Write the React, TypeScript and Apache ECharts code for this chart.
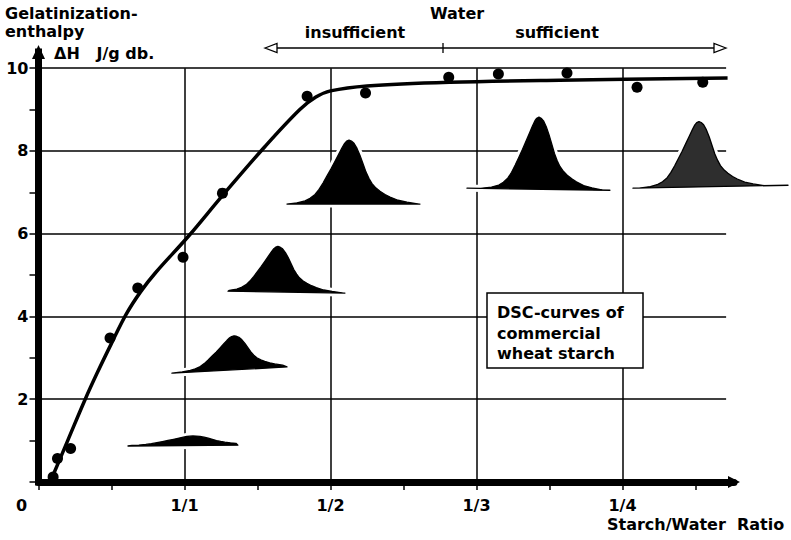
import React, { useEffect, useRef } from 'react';
import * as echarts from 'echarts';

const FONT = '"DejaVu Sans", Arial, sans-serif';

// Axis ticks / labels (x positions: 0, 1/1, 1/2, 1/3, 1/4 are equally spaced)
const X_TICK_LABELS = ['0', '1/1', '1/2', '1/3', '1/4'];
const X_LABEL_VALUES = [0, 1, 2, 3, 4];
const X_TICK_VALUES = [0, 0.5, 1, 1.5, 2, 2.5, 3, 3.5, 4, 4.5];
const Y_LABEL_VALUES = [2, 4, 6, 8, 10];
const Y_TICK_VALUES = [0, 1, 2, 3, 4, 5, 6, 7, 8, 9, 10];
const GRID_X_VALUES = [1, 2, 3, 4];
const GRID_Y_VALUES = [2, 4, 6, 8, 10];
const GRID_X_END = 4.71;
const GRID_Y_END = 10;

// Measured points (gelatinization enthalpy, J/g db.)
const measuredX = [0.10, 0.13, 0.22, 0.49, 0.68, 0.99, 1.26, 1.84, 2.24, 2.81, 3.15, 3.62, 4.10, 4.55];
const measuredY = [0.12, 0.57, 0.81, 3.48, 4.69, 5.43, 6.98, 9.32, 9.40, 9.78, 9.86, 9.88, 9.54, 9.66];

// Fitted curve
const fitX = [0.08, 0.20, 0.32, 0.40, 0.50, 0.60, 0.70, 0.80, 1.03, 1.26, 1.55, 1.79, 1.90, 2.00, 2.25, 2.82, 3.57, 4.72];
const fitY = [0.0, 1.0, 2.0, 2.62, 3.35, 4.05, 4.6, 5.05, 5.95, 6.92, 8.1, 9.0, 9.3, 9.45, 9.57, 9.66, 9.71, 9.76];

// DSC inset curves (data units): baseline start/end, peak position, peak height, width scale
const dscLeftX = [0.613, 0.914, 1.298, 1.702, 2.935, 4.072];
const dscLeftY = [0.87, 2.63, 4.61, 6.715, 7.10, 7.10];
const dscRightX = [1.366, 1.702, 2.099, 2.613, 3.914, 5.134];
const dscRightY = [0.89, 2.78, 4.565, 6.715, 7.05, 7.17];
const dscPeakX = [1.058, 1.339, 1.640, 2.127, 3.428, 4.524];
const dscPeakH = [0.23, 0.82, 1.10, 1.546, 1.74, 1.58];
const dscWidth = [0.19, 0.136, 0.128, 0.137, 0.125, 0.128];
// generic DSC peak profile: [offset in width units, fraction of peak height]
const DSC_PROFILE = [
  [-3.2, 0], [-2.6, 0.02], [-2.2, 0.05], [-1.95, 0.09], [-1.7, 0.15], [-1.5, 0.23],
  [-1.3, 0.33], [-1.1, 0.44], [-0.9, 0.55], [-0.7, 0.67], [-0.5, 0.79], [-0.35, 0.88],
  [-0.22, 0.95], [-0.12, 0.985], [0, 1], [0.12, 0.985], [0.25, 0.95], [0.4, 0.87],
  [0.55, 0.76], [0.7, 0.63], [0.85, 0.5], [1.0, 0.4], [1.15, 0.32], [1.35, 0.25],
  [1.55, 0.2], [1.8, 0.15], [2.05, 0.11], [2.45, 0.06], [2.9, 0.03], [3.5, 0],
];

const txt = (text: string, x: number, y: number, align: string = 'left') => ({
  type: 'text',
  z: 100,
  x,
  y,
  style: {
    text,
    fill: '#000',
    font: `bold 16px ${FONT}`,
    align,
    verticalAlign: 'middle',
  },
});

export default function App() {
  const ref = useRef<HTMLDivElement>(null);
  useEffect(() => {
    if (!ref.current) return;
    const chart = echarts.init(ref.current, null, { renderer: 'svg' });

    const gridLines = [
      ...GRID_Y_VALUES.map((v) => ({ coords: [[0, v], [GRID_X_END, v]] })),
      ...GRID_X_VALUES.map((v) => ({ coords: [[v, 0], [v, GRID_Y_END]] })),
    ];
    const dscData = dscLeftX.map((_, i) => [
      dscLeftX[i], dscLeftY[i], dscRightX[i], dscRightY[i], dscPeakX[i], dscPeakH[i], dscWidth[i],
    ]);

    const labelStyle = {
      color: '#000',
      fontSize: 16,
      fontWeight: 'bold',
      fontFamily: FONT,
    };

    const option: any = {
      animation: false,
      backgroundColor: '#fff',
      textStyle: { fontFamily: FONT },
      grid: {
        left: 38.5,
        right: 791 - 734,
        top: 52,
        bottom: 58,
        containLabel: false,
        outerBoundsMode: 'none',
      },
      xAxis: {
        type: 'value',
        min: 0,
        max: 4.764,
        axisLine: {
          show: true,
          onZero: false,
          symbol: ['none', 'triangle'],
          symbolSize: [12, 12],
          lineStyle: { color: '#000', width: 7 },
        },
        axisTick: {
          show: true,
          customValues: X_TICK_VALUES,
          length: 8,
          lineStyle: { color: '#000', width: 1.5 },
        },
        axisLabel: {
          ...labelStyle,
          customValues: X_LABEL_VALUES,
          margin: 15,
          formatter: (v: number) => (v === 0 ? '{z|0}' : X_TICK_LABELS[Math.round(v)]),
          rich: { z: { ...labelStyle, padding: [0, 34, 0, 0] } },
        },
        splitLine: { show: false },
      },
      yAxis: {
        type: 'value',
        min: 0,
        max: 10.39,
        axisLine: {
          show: true,
          onZero: false,
          symbol: ['none', 'triangle'],
          symbolSize: [13, 14],
          lineStyle: { color: '#000', width: 7, cap: 'square' },
        },
        axisTick: {
          show: true,
          customValues: Y_TICK_VALUES,
          length: 9,
          lineStyle: { color: '#000', width: 1.5 },
        },
        axisLabel: {
          ...labelStyle,
          customValues: Y_LABEL_VALUES,
          margin: 10,
          formatter: (v: number) => String(v),
        },
        splitLine: { show: false },
      },
      series: [
        {
          type: 'lines',
          coordinateSystem: 'cartesian2d',
          z: 1,
          silent: true,
          lineStyle: { color: '#000', width: 1.5, opacity: 1 },
          data: gridLines,
        },
        {
          type: 'custom',
          z: 2,
          silent: true,
          data: dscData,
          encode: { x: [0, 2, 4], y: [1, 3] },
          renderItem: (params: any, api: any) => {
            const i = params.dataIndex;
            const xL = api.value(0), yL = api.value(1), xR = api.value(2), yR = api.value(3);
            const px = api.value(4), h = api.value(5), w = api.value(6);
            const base = (x: number) => yL + ((yR - yL) * (x - xL)) / (xR - xL);
            const pts: number[][] = [api.coord([xL, yL])];
            for (const [u, f] of DSC_PROFILE) {
              const x = px + u * w;
              if (x <= xL || x >= xR) continue;
              pts.push(api.coord([x, base(x) + f * h]));
            }
            pts.push(api.coord([xR, yR]));
            const fill = i === 5 ? '#2e2e2e' : '#000';
            return {
              type: 'group',
              children: [
                {
                  type: 'polygon',
                  shape: { points: pts },
                  style: { fill: '#fff', stroke: '#fff', lineWidth: 7, lineJoin: 'round' },
                },
                {
                  type: 'polygon',
                  shape: { points: pts },
                  style: { fill, stroke: '#000', lineWidth: 1.3, lineJoin: 'round' },
                },
              ],
            };
          },
        },
        {
          type: 'line',
          z: 3,
          silent: true,
          smooth: 0.35,
          showSymbol: false,
          lineStyle: { color: '#000', width: 3.5 },
          data: fitX.map((x, i) => [x, fitY[i]]),
        },
        {
          type: 'scatter',
          z: 4,
          silent: true,
          symbol: 'circle',
          symbolSize: 11,
          itemStyle: { color: '#000', opacity: 1 },
          data: measuredX.map((x, i) => [x, measuredY[i]]),
        },
      ],
      graphic: {
        elements: [
          txt('Gelatinization-', 5, 13),
          txt('enthalpy', 5, 31),
          txt('ΔH   J/g db.', 54, 53),
          txt('Water', 457, 13, 'center'),
          txt('insufficient', 355, 32, 'center'),
          txt('sufficient', 557, 32, 'center'),
          {
            type: 'line',
            z: 100,
            shape: { x1: 277, y1: 48, x2: 714, y2: 48 },
            style: { stroke: '#000', lineWidth: 1.3 },
          },
          {
            type: 'line',
            z: 100,
            shape: { x1: 443, y1: 43, x2: 443, y2: 53 },
            style: { stroke: '#000', lineWidth: 1.3 },
          },
          {
            type: 'polygon',
            z: 100,
            shape: { points: [[265, 48], [277, 43.5], [277, 52.5]] },
            style: { fill: '#fff', stroke: '#000', lineWidth: 1.3 },
          },
          {
            type: 'polygon',
            z: 100,
            shape: { points: [[726, 48], [714, 43.5], [714, 52.5]] },
            style: { fill: '#fff', stroke: '#000', lineWidth: 1.3 },
          },
          {
            type: 'rect',
            z: 100,
            shape: { x: 487, y: 293, width: 156, height: 75 },
            style: { fill: '#fff', stroke: '#000', lineWidth: 1.5 },
          },
          txt('DSC-curves of', 497, 312),
          txt('commercial', 497, 333),
          txt('wheat starch', 497, 353),
          txt('Starch/Water  Ratio', 607, 524),
        ],
      },
    };

    chart.setOption(option);
    return () => chart.dispose();
  }, []);

  return (
    <div
      ref={ref}
      style={{ position: 'absolute', left: 0, top: 0, width: 791, height: 540, background: '#fff' }}
    />
  );
}
